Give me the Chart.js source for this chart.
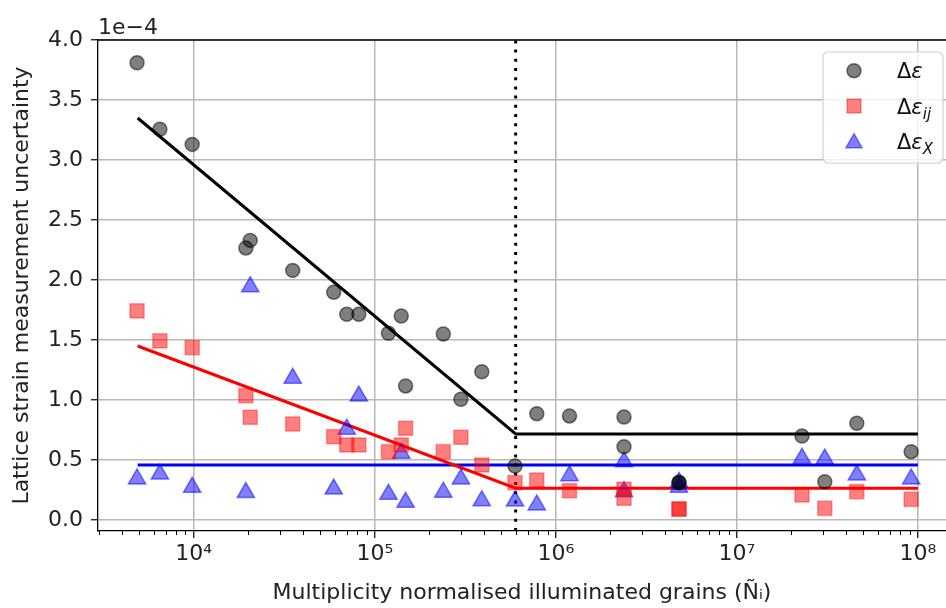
<!DOCTYPE html>
<html>
<head>
<meta charset="utf-8">
<script src="https://cdn.jsdelivr.net/npm/chart.js@4.4.0/dist/chart.umd.min.js"></script>
<style>
  html, body { margin: 0; padding: 0; background: #fff; }
  #wrap { width: 946px; height: 608px; position: relative; }
</style>
</head>
<body>
<div id="wrap"><canvas id="strainChart"></canvas></div>
<script>
// uncertainty values are given in units of 1e-4
var grains = [4.86e3, 6.5e3, 9.8e3, 1.94e4, 2.05e4, 3.52e4, 5.93e4, 7.0e4, 8.16e4, 1.19e5,
  1.4e5, 1.48e5, 2.39e5, 2.99e5, 3.9e5, 5.95e5, 7.85e5, 1.19e6, 2.38e6, 2.38e6,
  4.79e6, 4.79e6, 2.29e7, 3.06e7, 4.6e7, 9.18e7];
var deltaEps = [3.81, 3.256, 3.13, 2.267, 2.33, 2.08, 1.897, 1.714, 1.714, 1.556,
  1.70, 1.117, 1.55, 1.006, 1.236, 0.45, 0.886, 0.867, 0.858, 0.611,
  0.314, 0.31, 0.70, 0.319, 0.806, 0.569];
var deltaEpsIJ = [1.742, 1.492, 1.436, 1.036, 0.856, 0.80, 0.694, 0.625, 0.625, 0.569,
  0.625, 0.764, 0.569, 0.689, 0.458, 0.311, 0.333, 0.244, 0.256, 0.181,
  0.092, 0.09, 0.208, 0.097, 0.236, 0.172];
var deltaEpsX = [0.342, 0.383, 0.272, 0.228, 1.944, 1.181, 0.258, 0.756, 1.033, 0.214,
  0.556, 0.147, 0.231, 0.342, 0.161, 0.158, 0.125, 0.369, 0.486, 0.236,
  0.314, 0.272, 0.514, 0.508, 0.375, 0.342];

// piecewise fits
var fitX = [4.9e3, 6e5, 1e8];
var fitEps = [3.35, 0.717, 0.717];
var fitEpsIJ = [1.45, 0.265, 0.265];
var flatX = [4.9e3, 1e8];
var fitEpsX = [0.458, 0.458];
var breakX = 6e5;

var xTicks = [1e4, 1e5, 1e6, 1e7, 1e8];
var yTicks = [0, 0.5, 1, 1.5, 2, 2.5, 3, 3.5, 4];
var xMin = 2958, xMax = 1.43e8;
var yMin = -0.092, yMax = 4.0;

var FONT = "'DejaVu Sans', sans-serif";
var sup = { '3': '³', '4': '⁴', '5': '⁵', '6': '⁶', '7': '⁷', '8': '⁸' };

function pts(xs, ys) {
  return xs.map(function (x, i) { return { x: x, y: ys[i] }; });
}

// box spine, minor ticks, offset text and the legend
var extras = {
  id: 'extras',
  afterDraw: function (chart) {
    var ctx = chart.ctx, a = chart.chartArea, xs = chart.scales.x;
    ctx.save();
    ctx.strokeStyle = '#000';
    ctx.lineWidth = 1.3;
    ctx.beginPath();
    ctx.moveTo(a.left, a.top);
    ctx.lineTo(a.right, a.top);
    ctx.stroke();

    ctx.lineWidth = 1;
    for (var d = 3; d <= 8; d++) {
      for (var m = 2; m <= 9; m++) {
        var v = m * Math.pow(10, d);
        if (v < xMin || v > xMax) continue;
        var px = Math.round(xs.getPixelForValue(v)) + 0.5;
        ctx.beginPath();
        ctx.moveTo(px, a.bottom);
        ctx.lineTo(px, a.bottom + 4);
        ctx.stroke();
      }
    }

    ctx.fillStyle = '#222';
    ctx.font = '22px ' + FONT;
    ctx.textAlign = 'left';
    ctx.textBaseline = 'alphabetic';
    ctx.fillText('1e\u22124', a.left, 34);

    // legend
    var lx = 823, ly = 52, lw = 120, lh = 111, r = 5;
    ctx.fillStyle = 'rgba(255,255,255,0.8)';
    ctx.strokeStyle = 'rgba(204,204,204,0.9)';
    ctx.lineWidth = 1.2;
    ctx.beginPath();
    ctx.moveTo(lx + r, ly);
    ctx.arcTo(lx + lw, ly, lx + lw, ly + lh, r);
    ctx.arcTo(lx + lw, ly + lh, lx, ly + lh, r);
    ctx.arcTo(lx, ly + lh, lx, ly, r);
    ctx.arcTo(lx, ly, lx + lw, ly, r);
    ctx.closePath();
    ctx.fill();
    ctx.stroke();

    var mx = 854, rows = [70.7, 106, 141.7];
    ctx.lineWidth = 1.5;
    // circle
    ctx.fillStyle = 'rgba(0,0,0,0.5)';
    ctx.strokeStyle = 'rgba(0,0,0,0.5)';
    ctx.beginPath();
    ctx.arc(mx, rows[0], 7, 0, Math.PI * 2);
    ctx.fill(); ctx.stroke();
    // square
    ctx.fillStyle = 'rgba(255,0,0,0.5)';
    ctx.strokeStyle = 'rgba(255,0,0,0.35)';
    ctx.beginPath();
    ctx.rect(mx - 7, rows[1] - 7, 14, 14);
    ctx.fill(); ctx.stroke();
    // triangle
    ctx.fillStyle = 'rgba(0,0,255,0.5)';
    ctx.strokeStyle = 'rgba(0,0,255,0.5)';
    ctx.beginPath();
    ctx.moveTo(mx, rows[2] - 8);
    ctx.lineTo(mx + 8, rows[2] + 6);
    ctx.lineTo(mx - 8, rows[2] + 6);
    ctx.closePath();
    ctx.fill(); ctx.stroke();

    var tx = 897;
    var labels = [[''], ['ij'], ['X']];
    ctx.fillStyle = '#111';
    for (var i = 0; i < 3; i++) {
      var by = rows[i] + 7.5;
      ctx.font = '21px ' + FONT;
      ctx.fillText('\u0394', tx, by);
      var w1 = ctx.measureText('\u0394').width;
      ctx.font = 'italic 21px ' + FONT;
      ctx.fillText('\u03b5', tx + w1, by);
      var w2 = ctx.measureText('\u03b5').width;
      if (labels[i][0]) {
        ctx.font = 'italic 15px ' + FONT;
        ctx.fillText(labels[i][0], tx + w1 + w2, by + 5);
      }
    }
    ctx.restore();
  }
};

var ctxMain = document.getElementById('strainChart').getContext('2d');
var strainChart = new Chart(ctxMain, {
  type: 'scatter',
  data: {
    datasets: [
      {
        label: '\u0394\u03b5',
        data: pts(grains, deltaEps),
        pointStyle: 'circle',
        pointRadius: 7,
        backgroundColor: 'rgba(0,0,0,0.5)',
        borderColor: 'rgba(0,0,0,0.5)',
        borderWidth: 1.5,
        order: 1
      },
      {
        label: '\u0394\u03b5ij',
        data: pts(grains, deltaEpsIJ),
        pointStyle: 'rect',
        pointRadius: 10,
        backgroundColor: 'rgba(255,0,0,0.5)',
        borderColor: 'rgba(255,0,0,0.35)',
        borderWidth: 1.5,
        order: 2
      },
      {
        label: '\u0394\u03b5X',
        data: pts(grains, deltaEpsX),
        pointStyle: 'triangle',
        pointRadius: 10,
        backgroundColor: 'rgba(0,0,255,0.5)',
        borderColor: 'rgba(0,0,255,0.5)',
        borderWidth: 1.5,
        order: 3
      },
      {
        label: 'fit eps',
        data: pts(fitX, fitEps),
        showLine: true,
        pointRadius: 0,
        borderColor: '#000',
        borderWidth: 3,
        order: 5
      },
      {
        label: 'fit eps ij',
        data: pts(fitX, fitEpsIJ),
        showLine: true,
        pointRadius: 0,
        borderColor: '#ff0000',
        borderWidth: 3,
        order: 5
      },
      {
        label: 'fit eps X',
        data: pts(flatX, fitEpsX),
        showLine: true,
        pointRadius: 0,
        borderColor: '#0000ff',
        borderWidth: 3,
        order: 5
      },
      {
        label: 'break',
        data: [{ x: breakX, y: yMin }, { x: breakX, y: yMax }],
        showLine: true,
        pointRadius: 0,
        borderColor: '#000',
        borderWidth: 3,
        borderDash: [3, 6.2],
        order: 4
      }
    ]
  },
  options: {
    responsive: true,
    maintainAspectRatio: false,
    animation: false,
    layout: { autoPadding: false, padding: { top: 40, left: 0, right: 0, bottom: 0 } },
    plugins: {
      legend: { display: false },
      tooltip: { enabled: false }
    },
    scales: {
      x: {
        type: 'logarithmic',
        min: xMin,
        max: xMax,
        afterBuildTicks: function (scale) {
          scale.ticks = xTicks.map(function (v) { return { value: v, major: true }; });
        },
        afterFit: function (scale) {
          scale.height = 77;
          scale.paddingLeft = 0;
          scale.paddingRight = 0;
        },
        ticks: {
          autoSkip: false,
          maxRotation: 0,
          padding: 3,
          color: '#222',
          font: { family: FONT, size: 22 },
          callback: function (v) {
            var e = String(Math.round(Math.log10(v)));
            return '10' + (sup[e] || e);
          }
        },
        grid: { color: '#b8b8b8', lineWidth: 1.5, tickColor: '#000', tickLength: 7, tickWidth: 1.2 },
        border: { color: '#000', width: 1.3 },
        title: {
          display: true,
          text: 'Multiplicity normalised illuminated grains (\u00d1\u1d62)',
          color: '#222',
          font: { family: FONT, size: 22 },
          padding: { top: 0, bottom: 2 }
        }
      },
      y: {
        min: yMin,
        max: yMax,
        afterBuildTicks: function (scale) {
          scale.ticks = yTicks.map(function (v) { return { value: v }; });
        },
        afterFit: function (scale) {
          scale.width = 98;
          scale.paddingTop = 0;
          scale.paddingBottom = 0;
        },
        ticks: {
          padding: 8,
          color: '#222',
          font: { family: FONT, size: 22 },
          callback: function (v) { return v.toFixed(1); }
        },
        grid: { color: '#b8b8b8', lineWidth: 1.5, tickColor: '#000', tickLength: 7, tickWidth: 1.2 },
        border: { color: '#000', width: 1.3 },
        title: {
          display: true,
          text: 'Lattice strain measurement uncertainty',
          color: '#222',
          font: { family: FONT, size: 22 },
          padding: { top: 9, bottom: 0 }
        }
      }
    }
  },
  plugins: [extras]
});
</script>
</body>
</html>
